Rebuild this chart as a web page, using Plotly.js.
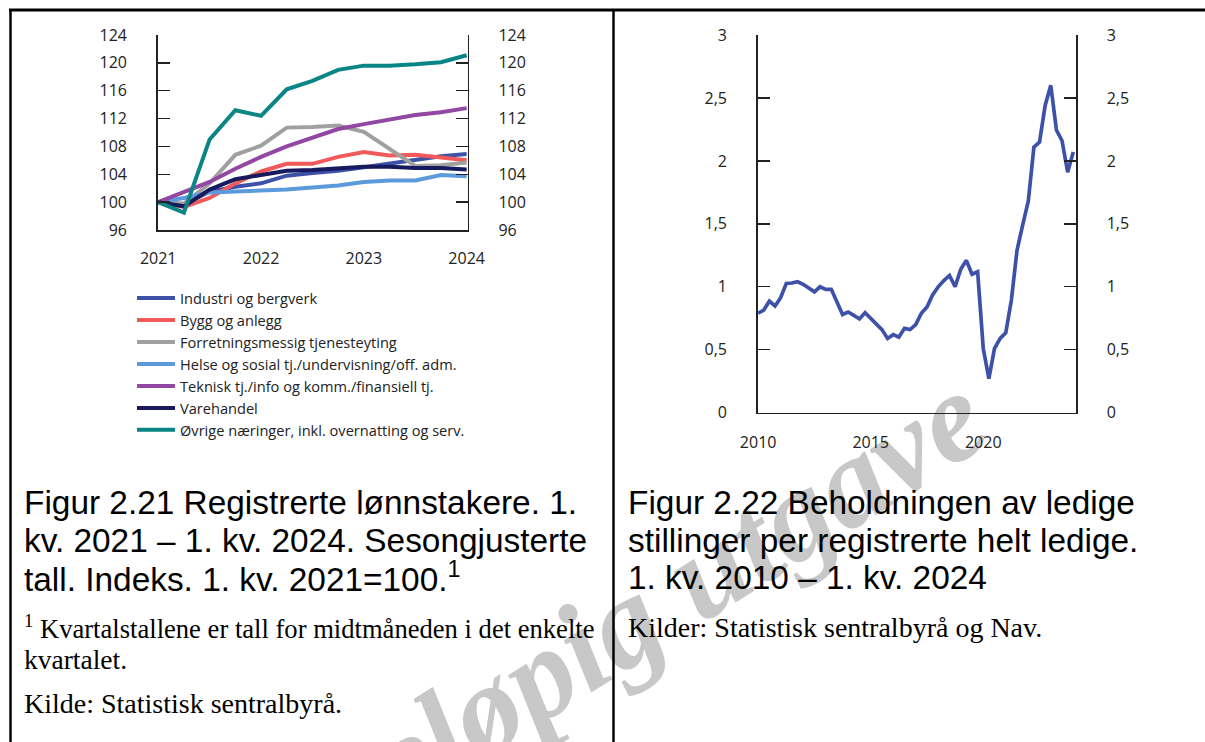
<!DOCTYPE html>
<html>
<head>
<meta charset="utf-8">
<script src="https://cdn.plot.ly/plotly-3.0.1.min.js"></script>
<style>
  html, body { margin: 0; padding: 0; background: #fff; }
  #fig { width: 1205px; height: 742px; }
</style>
</head>
<body>
<div id="fig"></div>
<script>
// Figur 2.21 - kvartaler 1. kv. 2021 - 1. kv. 2024
const kvartal21 = [2021, 2021.25, 2021.5, 2021.75, 2022, 2022.25, 2022.5, 2022.75, 2023, 2023.25, 2023.5, 2023.75, 2024];
const industri    = [100, 99.7, 101.5, 102.2, 102.7, 103.8, 104.2, 104.5, 105.0, 105.5, 106.1, 106.6, 106.9];
const bygg        = [100, 99.3, 100.6, 102.7, 104.4, 105.5, 105.5, 106.5, 107.2, 106.7, 106.8, 106.4, 106.0];
const forretning  = [100, 99.8, 102.7, 106.8, 108.1, 110.7, 110.8, 111.0, 110.1, 107.6, 105.2, 105.3, 105.7];
const helse       = [100, 100.6, 101.4, 101.5, 101.7, 101.8, 102.1, 102.4, 102.9, 103.1, 103.1, 103.9, 103.7];
const teknisk     = [100, 101.4, 102.9, 104.8, 106.5, 108.0, 109.3, 110.5, 111.2, 111.9, 112.5, 112.9, 113.5];
const varehandel  = [100, 99.4, 101.8, 103.3, 103.9, 104.5, 104.6, 104.8, 105.1, 105.1, 104.9, 104.9, 104.7];
const ovrige      = [100, 98.5, 109.0, 113.2, 112.4, 116.2, 117.4, 119.0, 119.6, 119.6, 119.8, 120.1, 121.1];

const serieNavn = ["Industri og bergverk", "Bygg og anlegg", "Forretningsmessig tjenesteyting",
  "Helse og sosial tj./undervisning/off. adm.", "Teknisk tj./info og komm./finansiell tj.",
  "Varehandel", "Øvrige næringer, inkl. overnatting og serv."];
const serieFarger = ["#3d51a9", "#f05a5a", "#a0a0a0", "#5b9bdc", "#9247a3", "#171a5c", "#0a8585"];

const y1Ticks = [96, 100, 104, 108, 112, 116, 120, 124];
const x1Ticks = [2021, 2022, 2023, 2024];

// Figur 2.22 - 1. kv. 2010 - 1. kv. 2024
const ledigePerHeltLedige = [
  0.79, 0.815, 0.887, 0.847, 0.913, 1.027, 1.03, 1.04, 1.02, 0.99, 0.96, 1.0,
  0.98, 0.98, 0.88, 0.78, 0.80, 0.775, 0.745, 0.795, 0.75, 0.71, 0.66, 0.59,
  0.62, 0.60, 0.67, 0.66, 0.70, 0.79, 0.84, 0.935, 1.0, 1.05, 1.09, 1.0,
  1.14, 1.21, 1.10, 1.12, 0.51, 0.27, 0.51, 0.59, 0.635, 0.895, 1.29, 1.49,
  1.68, 2.11, 2.15, 2.44, 2.60, 2.245, 2.16, 1.91, 2.07
];
const kvartal10 = ledigePerHeltLedige.map((v, i) => 2010 + i / 4);
const y2Ticks = [0, 0.5, 1, 1.5, 2, 2.5, 3];
const y2TickText = ["0", "0,5", "1", "1,5", "2", "2,5", "3"];
const x2Ticks = [2010, 2015, 2020];

const W = 1205, H = 742;
const px = x => x / W;
const py = y => 1 - y / H;

const tickFont = {family: "Open Sans", size: 16, color: "#222"};

const seriesData = [industri, bygg, forretning, helse, teknisk, varehandel, ovrige];
const traces = seriesData.map((ys, i) => ({
  x: kvartal21, y: ys, type: "scatter", mode: "lines",
  name: serieNavn[i],
  line: {color: serieFarger[i], width: 4},
  xaxis: "x", yaxis: "y", hoverinfo: "skip"
}));

traces.push({
  x: kvartal10, y: ledigePerHeltLedige, type: "scatter", mode: "lines",
  line: {color: "#3d51a9", width: 3.7},
  showlegend: false, xaxis: "x2", yaxis: "y3", hoverinfo: "skip"
});

// tomme traces slik at høyreaksene tegnes
traces.push({x: [2021], y: [100], xaxis: "x", yaxis: "y2", mode: "lines", showlegend: false, hoverinfo: "skip", line: {width: 0}});
traces.push({x: [2010], y: [0], xaxis: "x2", yaxis: "y4", mode: "lines", showlegend: false, hoverinfo: "skip", line: {width: 0}});

const yBase = {
  showline: true, linecolor: "#222", linewidth: 1.5,
  ticks: "inside", ticklen: 12, tickcolor: "#222", tickwidth: 1.3,
  showgrid: false, zeroline: false, tickfont: tickFont,
  ticklabelstandoff: 26, fixedrange: true
};
const xBase = {
  showline: true, linecolor: "#222", linewidth: 1.5,
  ticks: "", showgrid: false, zeroline: false, tickfont: tickFont,
  ticklabelstandoff: 15, fixedrange: true
};

const layout = {
  width: W, height: H,
  margin: {l: 0, r: 0, t: 0, b: 0},
  paper_bgcolor: "#fff", plot_bgcolor: "rgba(0,0,0,0)",
  showlegend: true,
  xaxis: Object.assign({}, xBase, {
    domain: [px(157.7), px(467.7)], anchor: "y",
    range: [2020.995, 2024.01], tickvals: x1Ticks, ticklabelstandoff: 13
  }),
  yaxis: Object.assign({}, yBase, {
    domain: [py(230), py(35)], anchor: "x", side: "left",
    range: [96, 124], tickvals: y1Ticks
  }),
  yaxis2: Object.assign({}, yBase, {
    domain: [py(230), py(35)], anchor: "x", overlaying: "y", side: "right",
    range: [96, 124], tickvals: y1Ticks
  }),
  xaxis2: Object.assign({}, xBase, {
    domain: [px(757.7), px(1076)], anchor: "y3",
    range: [2009.98, 2024.12], tickvals: x2Ticks
  }),
  yaxis3: Object.assign({}, yBase, {
    domain: [py(412.7), py(35)], anchor: "x2", side: "left",
    range: [0, 3], tickvals: y2Ticks, ticktext: y2TickText
  }),
  yaxis4: Object.assign({}, yBase, {
    domain: [py(412.7), py(35)], anchor: "x2", overlaying: "y3", side: "right",
    range: [0, 3], tickvals: y2Ticks, ticktext: y2TickText
  }),
  legend: {
    x: px(132), y: py(282), xanchor: "left", yanchor: "top",
    font: {family: "Open Sans", size: 14.6, color: "#222"},
    itemwidth: 38,
    bgcolor: "rgba(0,0,0,0)", borderwidth: 0, tracegroupgap: 0
  },
  shapes: [
    // vannmerke, lagt under akser og tekst
    {type: "rect", xref: "paper", yref: "paper", layer: "below",
     x0: px(578), x1: px(590), y0: py(636), y1: py(624),
     line: {width: 0}, fillcolor: "rgba(0,0,0,0)",
     label: {text: "Foreløpig utgave", textangle: -32, textposition: "middle center",
             font: {family: "Liberation Serif", size: 128, color: "#c8c8c8", weight: "bold", style: "italic"}}},
    {type: "line", xref: "paper", yref: "paper", x0: px(9), x1: 1, y0: py(10), y1: py(10), line: {color: "#000", width: 3}},
    {type: "line", xref: "paper", yref: "paper", x0: px(10.5), x1: px(10.5), y0: py(9), y1: 0, line: {color: "#000", width: 2.5}},
    {type: "line", xref: "paper", yref: "paper", x0: px(613.5), x1: px(613.5), y0: py(9), y1: 0, line: {color: "#000", width: 2.5}}
  ],
  annotations: []
};

function tekst(x, y, t, size, family) {
  layout.annotations.push({
    xref: "paper", yref: "paper", x: px(x), y: py(y), xanchor: "left", yanchor: "middle",
    text: t, showarrow: false, align: "left",
    font: {family: family, size: size, color: "#000"}
  });
}

const sans = "Liberation Sans", serif = "Liberation Serif";
tekst(22, 502, "Figur 2.21 Registrerte lønnstakere. 1.", 33.4, sans);
tekst(22, 540, "kv. 2021 – 1. kv. 2024. Sesongjusterte", 33.4, sans);
tekst(22, 577, "tall. Indeks. 1. kv. 2021=100.<sup>1</sup>", 33.4, sans);
tekst(22, 627, "<sup>1</sup> Kvartalstallene er tall for midtmåneden i det enkelte", 26.6, serif);
tekst(22, 659, "kvartalet.", 27.5, serif);
tekst(22, 703, "Kilde: Statistisk sentralbyrå.", 28, serif);

tekst(626, 502, "Figur 2.22 Beholdningen av ledige", 33.4, sans);
tekst(626, 540, "stillinger per registrerte helt ledige.", 33.4, sans);
tekst(626, 577, "1. kv. 2010 – 1. kv. 2024", 33.4, sans);
tekst(626, 627, "Kilder: Statistisk sentralbyrå og Nav.", 28, serif);

Plotly.newPlot("fig", traces, layout, {staticPlot: true});
</script>
</body>
</html>
